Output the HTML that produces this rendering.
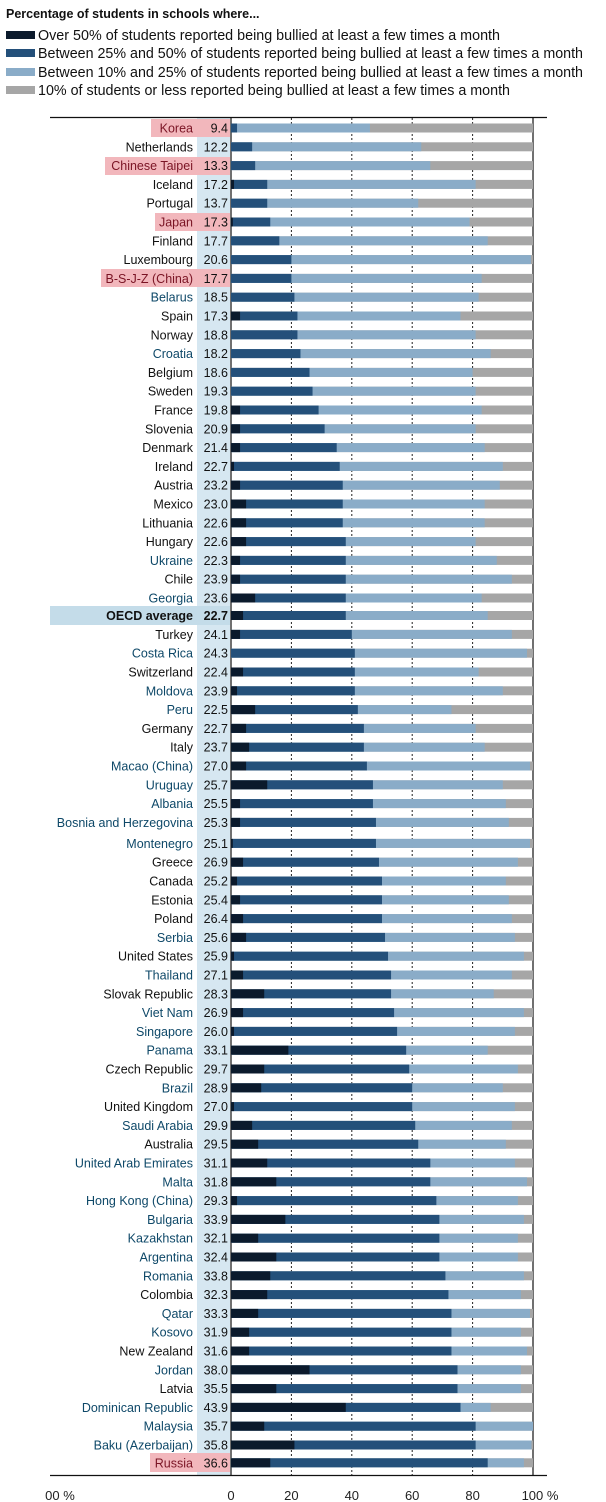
<!DOCTYPE html>
<html><head><meta charset="utf-8"><style>
body{margin:0;background:#fff}
svg{display:block;font-family:"Liberation Sans",sans-serif}
.l{text-anchor:end;font-size:12.5px;fill:#111}
.p{fill:#0e4868}
.k{fill:#7a1424}
.v{text-anchor:end;font-size:12.5px;fill:#111}
.b rect{y:-4.5px;height:9px}
.g{fill:#a6a6a6}.c{fill:#8aacc8}.m{fill:#24507a}.d{fill:#0b1a2c}
.lg{font-size:14.5px;fill:#111}
</style></head><body>
<svg width="606" height="1502" viewBox="0 0 606 1502">
<text x="6" y="18" font-size="12.5" font-weight="bold" fill="#111">Percentage of students in schools where...</text>
<rect x="6" y="31" width="29" height="8" class="d"/><text x="38" y="40" class="lg" textLength="462" lengthAdjust="spacingAndGlyphs">Over 50% of students reported being bullied at least a few times a month</text>
<rect x="6" y="49" width="29" height="8" class="m"/><text x="38" y="58" class="lg" textLength="545" lengthAdjust="spacingAndGlyphs">Between 25% and 50% of students reported being bullied at least a few times a month</text>
<rect x="6" y="68" width="29" height="8" class="c"/><text x="38" y="77" class="lg" textLength="545" lengthAdjust="spacingAndGlyphs">Between 10% and 25% of students reported being bullied at least a few times a month</text>
<rect x="6" y="86" width="29" height="8" class="g"/><text x="38" y="95" class="lg" textLength="472" lengthAdjust="spacingAndGlyphs">10% of students or less reported being bullied at least a few times a month</text>
<rect x="197" y="118" width="33" height="1357" fill="#d6e7f1"/>
<rect x="50" y="606" width="180" height="19" fill="#c4dce9"/>
<rect x="151" y="119" width="79" height="18" fill="#f2b7bc"/>
<rect x="105" y="157" width="125" height="18" fill="#f2b7bc"/>
<rect x="155" y="213" width="75" height="18" fill="#f2b7bc"/>
<rect x="101" y="269" width="129" height="18" fill="#f2b7bc"/>
<rect x="150" y="1453" width="80" height="19" fill="#f2b7bc"/>
<g stroke="#222" stroke-width="1" stroke-dasharray="2,2">
<line x1="291.4" y1="118" x2="291.4" y2="1475"/><line x1="351.8" y1="118" x2="351.8" y2="1475"/><line x1="412.2" y1="118" x2="412.2" y2="1475"/><line x1="472.6" y1="118" x2="472.6" y2="1475"/></g>
<g fill="none" stroke="#111" stroke-width="1.2"><line x1="50" y1="117.5" x2="547" y2="117.5"/><line x1="50" y1="1475.5" x2="547" y2="1475.5"/><line x1="231" y1="117" x2="231" y2="1476"/><line x1="533" y1="117" x2="533" y2="1476"/></g>
<g font-size="13" fill="#222" text-anchor="middle"><text x="60" y="1500">00 %</text><text x="231" y="1500">0</text><text x="291.4" y="1500">20</text><text x="351.8" y="1500">40</text><text x="412.2" y="1500">60</text><text x="472.6" y="1500">80</text><text x="540" y="1500">100 %</text></g>
<g id="rows">
<g transform="translate(0,128)"><text x="193" y="4.5" class="l k">Korea</text><text x="228" y="4.5" class="v">9.4</text><g class="b" transform="translate(231,0) scale(3.02,1)"><rect class="g" width="100"/><rect class="c" width="46"/><rect class="m" width="2"/></g></g>
<g transform="translate(0,146.8)"><text x="193" y="4.5" class="l">Netherlands</text><text x="228" y="4.5" class="v">12.2</text><g class="b" transform="translate(231,0) scale(3.02,1)"><rect class="g" width="100"/><rect class="c" width="63"/><rect class="m" width="7"/></g></g>
<g transform="translate(0,165.6)"><text x="193" y="4.5" class="l k">Chinese Taipei</text><text x="228" y="4.5" class="v">13.3</text><g class="b" transform="translate(231,0) scale(3.02,1)"><rect class="g" width="100"/><rect class="c" width="66"/><rect class="m" width="8"/></g></g>
<g transform="translate(0,184.4)"><text x="193" y="4.5" class="l">Iceland</text><text x="228" y="4.5" class="v">17.2</text><g class="b" transform="translate(231,0) scale(3.02,1)"><rect class="g" width="100"/><rect class="c" width="81"/><rect class="m" width="12"/><rect class="d" width="1"/></g></g>
<g transform="translate(0,203.2)"><text x="193" y="4.5" class="l">Portugal</text><text x="228" y="4.5" class="v">13.7</text><g class="b" transform="translate(231,0) scale(3.02,1)"><rect class="g" width="100"/><rect class="c" width="62"/><rect class="m" width="12"/></g></g>
<g transform="translate(0,222)"><text x="193" y="4.5" class="l k">Japan</text><text x="228" y="4.5" class="v">17.3</text><g class="b" transform="translate(231,0) scale(3.02,1)"><rect class="g" width="100"/><rect class="c" width="79"/><rect class="m" width="13"/><rect class="d" width="0.6"/></g></g>
<g transform="translate(0,240.8)"><text x="193" y="4.5" class="l">Finland</text><text x="228" y="4.5" class="v">17.7</text><g class="b" transform="translate(231,0) scale(3.02,1)"><rect class="g" width="100"/><rect class="c" width="85"/><rect class="m" width="16"/></g></g>
<g transform="translate(0,259.6)"><text x="193" y="4.5" class="l">Luxembourg</text><text x="228" y="4.5" class="v">20.6</text><g class="b" transform="translate(231,0) scale(3.02,1)"><rect class="g" width="100"/><rect class="c" width="99.3"/><rect class="m" width="20"/></g></g>
<g transform="translate(0,278.4)"><text x="193" y="4.5" class="l k">B-S-J-Z (China)</text><text x="228" y="4.5" class="v">17.7</text><g class="b" transform="translate(231,0) scale(3.02,1)"><rect class="g" width="100"/><rect class="c" width="83"/><rect class="m" width="20"/></g></g>
<g transform="translate(0,297.2)"><text x="193" y="4.5" class="l p">Belarus</text><text x="228" y="4.5" class="v">18.5</text><g class="b" transform="translate(231,0) scale(3.02,1)"><rect class="g" width="100"/><rect class="c" width="82"/><rect class="m" width="21"/></g></g>
<g transform="translate(0,316)"><text x="193" y="4.5" class="l">Spain</text><text x="228" y="4.5" class="v">17.3</text><g class="b" transform="translate(231,0) scale(3.02,1)"><rect class="g" width="100"/><rect class="c" width="76"/><rect class="m" width="22"/><rect class="d" width="3"/></g></g>
<g transform="translate(0,334.8)"><text x="193" y="4.5" class="l">Norway</text><text x="228" y="4.5" class="v">18.8</text><g class="b" transform="translate(231,0) scale(3.02,1)"><rect class="g" width="100"/><rect class="c" width="81"/><rect class="m" width="22"/></g></g>
<g transform="translate(0,353.6)"><text x="193" y="4.5" class="l p">Croatia</text><text x="228" y="4.5" class="v">18.2</text><g class="b" transform="translate(231,0) scale(3.02,1)"><rect class="g" width="100"/><rect class="c" width="86"/><rect class="m" width="23"/></g></g>
<g transform="translate(0,372.4)"><text x="193" y="4.5" class="l">Belgium</text><text x="228" y="4.5" class="v">18.6</text><g class="b" transform="translate(231,0) scale(3.02,1)"><rect class="g" width="100"/><rect class="c" width="80"/><rect class="m" width="26"/></g></g>
<g transform="translate(0,391.2)"><text x="193" y="4.5" class="l">Sweden</text><text x="228" y="4.5" class="v">19.3</text><g class="b" transform="translate(231,0) scale(3.02,1)"><rect class="g" width="100"/><rect class="c" width="81"/><rect class="m" width="27"/></g></g>
<g transform="translate(0,410)"><text x="193" y="4.5" class="l">France</text><text x="228" y="4.5" class="v">19.8</text><g class="b" transform="translate(231,0) scale(3.02,1)"><rect class="g" width="100"/><rect class="c" width="83"/><rect class="m" width="29"/><rect class="d" width="3"/></g></g>
<g transform="translate(0,428.8)"><text x="193" y="4.5" class="l">Slovenia</text><text x="228" y="4.5" class="v">20.9</text><g class="b" transform="translate(231,0) scale(3.02,1)"><rect class="g" width="100"/><rect class="c" width="81"/><rect class="m" width="31"/><rect class="d" width="3"/></g></g>
<g transform="translate(0,447.6)"><text x="193" y="4.5" class="l">Denmark</text><text x="228" y="4.5" class="v">21.4</text><g class="b" transform="translate(231,0) scale(3.02,1)"><rect class="g" width="100"/><rect class="c" width="84"/><rect class="m" width="35"/><rect class="d" width="3"/></g></g>
<g transform="translate(0,466.4)"><text x="193" y="4.5" class="l">Ireland</text><text x="228" y="4.5" class="v">22.7</text><g class="b" transform="translate(231,0) scale(3.02,1)"><rect class="g" width="100"/><rect class="c" width="90"/><rect class="m" width="36"/><rect class="d" width="1"/></g></g>
<g transform="translate(0,485.2)"><text x="193" y="4.5" class="l">Austria</text><text x="228" y="4.5" class="v">23.2</text><g class="b" transform="translate(231,0) scale(3.02,1)"><rect class="g" width="100"/><rect class="c" width="89"/><rect class="m" width="37"/><rect class="d" width="3"/></g></g>
<g transform="translate(0,504)"><text x="193" y="4.5" class="l">Mexico</text><text x="228" y="4.5" class="v">23.0</text><g class="b" transform="translate(231,0) scale(3.02,1)"><rect class="g" width="100"/><rect class="c" width="84"/><rect class="m" width="37"/><rect class="d" width="5"/></g></g>
<g transform="translate(0,522.8)"><text x="193" y="4.5" class="l">Lithuania</text><text x="228" y="4.5" class="v">22.6</text><g class="b" transform="translate(231,0) scale(3.02,1)"><rect class="g" width="100"/><rect class="c" width="84"/><rect class="m" width="37"/><rect class="d" width="5"/></g></g>
<g transform="translate(0,541.6)"><text x="193" y="4.5" class="l">Hungary</text><text x="228" y="4.5" class="v">22.6</text><g class="b" transform="translate(231,0) scale(3.02,1)"><rect class="g" width="100"/><rect class="c" width="81"/><rect class="m" width="38"/><rect class="d" width="5"/></g></g>
<g transform="translate(0,560.4)"><text x="193" y="4.5" class="l p">Ukraine</text><text x="228" y="4.5" class="v">22.3</text><g class="b" transform="translate(231,0) scale(3.02,1)"><rect class="g" width="100"/><rect class="c" width="88"/><rect class="m" width="38"/><rect class="d" width="3"/></g></g>
<g transform="translate(0,579.2)"><text x="193" y="4.5" class="l">Chile</text><text x="228" y="4.5" class="v">23.9</text><g class="b" transform="translate(231,0) scale(3.02,1)"><rect class="g" width="100"/><rect class="c" width="93"/><rect class="m" width="38"/><rect class="d" width="3"/></g></g>
<g transform="translate(0,598)"><text x="193" y="4.5" class="l p">Georgia</text><text x="228" y="4.5" class="v">23.6</text><g class="b" transform="translate(231,0) scale(3.02,1)"><rect class="g" width="100"/><rect class="c" width="83"/><rect class="m" width="38"/><rect class="d" width="8"/></g></g>
<g transform="translate(0,615.5)"><text x="193" y="4.5" class="l" font-weight="bold">OECD average</text><text x="228" y="4.5" class="v" font-weight="bold">22.7</text><g class="b" transform="translate(231,0) scale(3.02,1)"><rect class="g" width="100"/><rect class="c" width="85"/><rect class="m" width="38"/><rect class="d" width="4"/></g></g>
<g transform="translate(0,634.4)"><text x="193" y="4.5" class="l">Turkey</text><text x="228" y="4.5" class="v">24.1</text><g class="b" transform="translate(231,0) scale(3.02,1)"><rect class="g" width="100"/><rect class="c" width="93"/><rect class="m" width="40"/><rect class="d" width="3"/></g></g>
<g transform="translate(0,653.2)"><text x="193" y="4.5" class="l p">Costa Rica</text><text x="228" y="4.5" class="v">24.3</text><g class="b" transform="translate(231,0) scale(3.02,1)"><rect class="g" width="100"/><rect class="c" width="98"/><rect class="m" width="41"/></g></g>
<g transform="translate(0,672)"><text x="193" y="4.5" class="l">Switzerland</text><text x="228" y="4.5" class="v">22.4</text><g class="b" transform="translate(231,0) scale(3.02,1)"><rect class="g" width="100"/><rect class="c" width="82"/><rect class="m" width="41"/><rect class="d" width="4"/></g></g>
<g transform="translate(0,690.8)"><text x="193" y="4.5" class="l p">Moldova</text><text x="228" y="4.5" class="v">23.9</text><g class="b" transform="translate(231,0) scale(3.02,1)"><rect class="g" width="100"/><rect class="c" width="90"/><rect class="m" width="41"/><rect class="d" width="2"/></g></g>
<g transform="translate(0,709.6)"><text x="193" y="4.5" class="l p">Peru</text><text x="228" y="4.5" class="v">22.5</text><g class="b" transform="translate(231,0) scale(3.02,1)"><rect class="g" width="100"/><rect class="c" width="73"/><rect class="m" width="42"/><rect class="d" width="8"/></g></g>
<g transform="translate(0,728.4)"><text x="193" y="4.5" class="l">Germany</text><text x="228" y="4.5" class="v">22.7</text><g class="b" transform="translate(231,0) scale(3.02,1)"><rect class="g" width="100"/><rect class="c" width="81"/><rect class="m" width="44"/><rect class="d" width="5"/></g></g>
<g transform="translate(0,747.2)"><text x="193" y="4.5" class="l">Italy</text><text x="228" y="4.5" class="v">23.7</text><g class="b" transform="translate(231,0) scale(3.02,1)"><rect class="g" width="100"/><rect class="c" width="84"/><rect class="m" width="44"/><rect class="d" width="6"/></g></g>
<g transform="translate(0,766)"><text x="193" y="4.5" class="l p">Macao (China)</text><text x="228" y="4.5" class="v">27.0</text><g class="b" transform="translate(231,0) scale(3.02,1)"><rect class="g" width="100"/><rect class="c" width="99"/><rect class="m" width="45"/><rect class="d" width="5"/></g></g>
<g transform="translate(0,784.8)"><text x="193" y="4.5" class="l p">Uruguay</text><text x="228" y="4.5" class="v">25.7</text><g class="b" transform="translate(231,0) scale(3.02,1)"><rect class="g" width="100"/><rect class="c" width="90"/><rect class="m" width="47"/><rect class="d" width="12"/></g></g>
<g transform="translate(0,803.6)"><text x="193" y="4.5" class="l p">Albania</text><text x="228" y="4.5" class="v">25.5</text><g class="b" transform="translate(231,0) scale(3.02,1)"><rect class="g" width="100"/><rect class="c" width="91"/><rect class="m" width="47"/><rect class="d" width="3"/></g></g>
<g transform="translate(0,822.4)"><text x="193" y="4.5" class="l p">Bosnia and Herzegovina</text><text x="228" y="4.5" class="v">25.3</text><g class="b" transform="translate(231,0) scale(3.02,1)"><rect class="g" width="100"/><rect class="c" width="92"/><rect class="m" width="48"/><rect class="d" width="3"/></g></g>
<g transform="translate(0,843.4)"><text x="193" y="4.5" class="l p">Montenegro</text><text x="228" y="4.5" class="v">25.1</text><g class="b" transform="translate(231,0) scale(3.02,1)"><rect class="g" width="100"/><rect class="c" width="99"/><rect class="m" width="48"/><rect class="d" width="0.6"/></g></g>
<g transform="translate(0,862.2)"><text x="193" y="4.5" class="l">Greece</text><text x="228" y="4.5" class="v">26.9</text><g class="b" transform="translate(231,0) scale(3.02,1)"><rect class="g" width="100"/><rect class="c" width="95"/><rect class="m" width="49"/><rect class="d" width="4"/></g></g>
<g transform="translate(0,881)"><text x="193" y="4.5" class="l">Canada</text><text x="228" y="4.5" class="v">25.2</text><g class="b" transform="translate(231,0) scale(3.02,1)"><rect class="g" width="100"/><rect class="c" width="91"/><rect class="m" width="50"/><rect class="d" width="2"/></g></g>
<g transform="translate(0,899.8)"><text x="193" y="4.5" class="l">Estonia</text><text x="228" y="4.5" class="v">25.4</text><g class="b" transform="translate(231,0) scale(3.02,1)"><rect class="g" width="100"/><rect class="c" width="92"/><rect class="m" width="50"/><rect class="d" width="3"/></g></g>
<g transform="translate(0,918.6)"><text x="193" y="4.5" class="l">Poland</text><text x="228" y="4.5" class="v">26.4</text><g class="b" transform="translate(231,0) scale(3.02,1)"><rect class="g" width="100"/><rect class="c" width="93"/><rect class="m" width="50"/><rect class="d" width="4"/></g></g>
<g transform="translate(0,937.4)"><text x="193" y="4.5" class="l p">Serbia</text><text x="228" y="4.5" class="v">25.6</text><g class="b" transform="translate(231,0) scale(3.02,1)"><rect class="g" width="100"/><rect class="c" width="94"/><rect class="m" width="51"/><rect class="d" width="5"/></g></g>
<g transform="translate(0,956.2)"><text x="193" y="4.5" class="l">United States</text><text x="228" y="4.5" class="v">25.9</text><g class="b" transform="translate(231,0) scale(3.02,1)"><rect class="g" width="100"/><rect class="c" width="97"/><rect class="m" width="52"/><rect class="d" width="1"/></g></g>
<g transform="translate(0,975)"><text x="193" y="4.5" class="l p">Thailand</text><text x="228" y="4.5" class="v">27.1</text><g class="b" transform="translate(231,0) scale(3.02,1)"><rect class="g" width="100"/><rect class="c" width="93"/><rect class="m" width="53"/><rect class="d" width="4"/></g></g>
<g transform="translate(0,993.8)"><text x="193" y="4.5" class="l">Slovak Republic</text><text x="228" y="4.5" class="v">28.3</text><g class="b" transform="translate(231,0) scale(3.02,1)"><rect class="g" width="100"/><rect class="c" width="87"/><rect class="m" width="53"/><rect class="d" width="11"/></g></g>
<g transform="translate(0,1012.6)"><text x="193" y="4.5" class="l p">Viet Nam</text><text x="228" y="4.5" class="v">26.9</text><g class="b" transform="translate(231,0) scale(3.02,1)"><rect class="g" width="100"/><rect class="c" width="97"/><rect class="m" width="54"/><rect class="d" width="4"/></g></g>
<g transform="translate(0,1031.4)"><text x="193" y="4.5" class="l p">Singapore</text><text x="228" y="4.5" class="v">26.0</text><g class="b" transform="translate(231,0) scale(3.02,1)"><rect class="g" width="100"/><rect class="c" width="94"/><rect class="m" width="55"/><rect class="d" width="1"/></g></g>
<g transform="translate(0,1050.2)"><text x="193" y="4.5" class="l p">Panama</text><text x="228" y="4.5" class="v">33.1</text><g class="b" transform="translate(231,0) scale(3.02,1)"><rect class="g" width="100"/><rect class="c" width="85"/><rect class="m" width="58"/><rect class="d" width="19"/></g></g>
<g transform="translate(0,1069)"><text x="193" y="4.5" class="l">Czech Republic</text><text x="228" y="4.5" class="v">29.7</text><g class="b" transform="translate(231,0) scale(3.02,1)"><rect class="g" width="100"/><rect class="c" width="95"/><rect class="m" width="59"/><rect class="d" width="11"/></g></g>
<g transform="translate(0,1087.8)"><text x="193" y="4.5" class="l p">Brazil</text><text x="228" y="4.5" class="v">28.9</text><g class="b" transform="translate(231,0) scale(3.02,1)"><rect class="g" width="100"/><rect class="c" width="90"/><rect class="m" width="60"/><rect class="d" width="10"/></g></g>
<g transform="translate(0,1106.6)"><text x="193" y="4.5" class="l">United Kingdom</text><text x="228" y="4.5" class="v">27.0</text><g class="b" transform="translate(231,0) scale(3.02,1)"><rect class="g" width="100"/><rect class="c" width="94"/><rect class="m" width="60"/><rect class="d" width="1"/></g></g>
<g transform="translate(0,1125.4)"><text x="193" y="4.5" class="l p">Saudi Arabia</text><text x="228" y="4.5" class="v">29.9</text><g class="b" transform="translate(231,0) scale(3.02,1)"><rect class="g" width="100"/><rect class="c" width="93"/><rect class="m" width="61"/><rect class="d" width="7"/></g></g>
<g transform="translate(0,1144.2)"><text x="193" y="4.5" class="l">Australia</text><text x="228" y="4.5" class="v">29.5</text><g class="b" transform="translate(231,0) scale(3.02,1)"><rect class="g" width="100"/><rect class="c" width="91"/><rect class="m" width="62"/><rect class="d" width="9"/></g></g>
<g transform="translate(0,1163)"><text x="193" y="4.5" class="l p">United Arab Emirates</text><text x="228" y="4.5" class="v">31.1</text><g class="b" transform="translate(231,0) scale(3.02,1)"><rect class="g" width="100"/><rect class="c" width="94"/><rect class="m" width="66"/><rect class="d" width="12"/></g></g>
<g transform="translate(0,1181.8)"><text x="193" y="4.5" class="l p">Malta</text><text x="228" y="4.5" class="v">31.8</text><g class="b" transform="translate(231,0) scale(3.02,1)"><rect class="g" width="100"/><rect class="c" width="98"/><rect class="m" width="66"/><rect class="d" width="15"/></g></g>
<g transform="translate(0,1200.6)"><text x="193" y="4.5" class="l p">Hong Kong (China)</text><text x="228" y="4.5" class="v">29.3</text><g class="b" transform="translate(231,0) scale(3.02,1)"><rect class="g" width="100"/><rect class="c" width="95"/><rect class="m" width="68"/><rect class="d" width="2"/></g></g>
<g transform="translate(0,1219.4)"><text x="193" y="4.5" class="l p">Bulgaria</text><text x="228" y="4.5" class="v">33.9</text><g class="b" transform="translate(231,0) scale(3.02,1)"><rect class="g" width="100"/><rect class="c" width="97"/><rect class="m" width="69"/><rect class="d" width="18"/></g></g>
<g transform="translate(0,1238.2)"><text x="193" y="4.5" class="l p">Kazakhstan</text><text x="228" y="4.5" class="v">32.1</text><g class="b" transform="translate(231,0) scale(3.02,1)"><rect class="g" width="100"/><rect class="c" width="95"/><rect class="m" width="69"/><rect class="d" width="9"/></g></g>
<g transform="translate(0,1257)"><text x="193" y="4.5" class="l p">Argentina</text><text x="228" y="4.5" class="v">32.4</text><g class="b" transform="translate(231,0) scale(3.02,1)"><rect class="g" width="100"/><rect class="c" width="95"/><rect class="m" width="69"/><rect class="d" width="15"/></g></g>
<g transform="translate(0,1275.8)"><text x="193" y="4.5" class="l p">Romania</text><text x="228" y="4.5" class="v">33.8</text><g class="b" transform="translate(231,0) scale(3.02,1)"><rect class="g" width="100"/><rect class="c" width="97"/><rect class="m" width="71"/><rect class="d" width="13"/></g></g>
<g transform="translate(0,1294.6)"><text x="193" y="4.5" class="l">Colombia</text><text x="228" y="4.5" class="v">32.3</text><g class="b" transform="translate(231,0) scale(3.02,1)"><rect class="g" width="100"/><rect class="c" width="96"/><rect class="m" width="72"/><rect class="d" width="12"/></g></g>
<g transform="translate(0,1313.4)"><text x="193" y="4.5" class="l p">Qatar</text><text x="228" y="4.5" class="v">33.3</text><g class="b" transform="translate(231,0) scale(3.02,1)"><rect class="g" width="100"/><rect class="c" width="99"/><rect class="m" width="73"/><rect class="d" width="9"/></g></g>
<g transform="translate(0,1332.2)"><text x="193" y="4.5" class="l p">Kosovo</text><text x="228" y="4.5" class="v">31.9</text><g class="b" transform="translate(231,0) scale(3.02,1)"><rect class="g" width="100"/><rect class="c" width="96"/><rect class="m" width="73"/><rect class="d" width="6"/></g></g>
<g transform="translate(0,1351)"><text x="193" y="4.5" class="l">New Zealand</text><text x="228" y="4.5" class="v">31.6</text><g class="b" transform="translate(231,0) scale(3.02,1)"><rect class="g" width="100"/><rect class="c" width="98"/><rect class="m" width="73"/><rect class="d" width="6"/></g></g>
<g transform="translate(0,1369.8)"><text x="193" y="4.5" class="l p">Jordan</text><text x="228" y="4.5" class="v">38.0</text><g class="b" transform="translate(231,0) scale(3.02,1)"><rect class="g" width="100"/><rect class="c" width="96"/><rect class="m" width="75"/><rect class="d" width="26"/></g></g>
<g transform="translate(0,1388.6)"><text x="193" y="4.5" class="l">Latvia</text><text x="228" y="4.5" class="v">35.5</text><g class="b" transform="translate(231,0) scale(3.02,1)"><rect class="g" width="100"/><rect class="c" width="96"/><rect class="m" width="75"/><rect class="d" width="15"/></g></g>
<g transform="translate(0,1407.4)"><text x="193" y="4.5" class="l p">Dominican Republic</text><text x="228" y="4.5" class="v">43.9</text><g class="b" transform="translate(231,0) scale(3.02,1)"><rect class="g" width="100"/><rect class="c" width="86"/><rect class="m" width="76"/><rect class="d" width="38"/></g></g>
<g transform="translate(0,1426.2)"><text x="193" y="4.5" class="l p">Malaysia</text><text x="228" y="4.5" class="v">35.7</text><g class="b" transform="translate(231,0) scale(3.02,1)"><rect class="g" width="100"/><rect class="c" width="100"/><rect class="m" width="81"/><rect class="d" width="11"/></g></g>
<g transform="translate(0,1445)"><text x="193" y="4.5" class="l p">Baku (Azerbaijan)</text><text x="228" y="4.5" class="v">35.8</text><g class="b" transform="translate(231,0) scale(3.02,1)"><rect class="g" width="100"/><rect class="c" width="99.5"/><rect class="m" width="81"/><rect class="d" width="21"/></g></g>
<g transform="translate(0,1462.8)"><text x="193" y="4.5" class="l k">Russia</text><text x="228" y="4.5" class="v">36.6</text><g class="b" transform="translate(231,0) scale(3.02,1)"><rect class="g" width="100"/><rect class="c" width="97"/><rect class="m" width="85"/><rect class="d" width="13"/></g></g>
</g>
</svg>
</body></html>
